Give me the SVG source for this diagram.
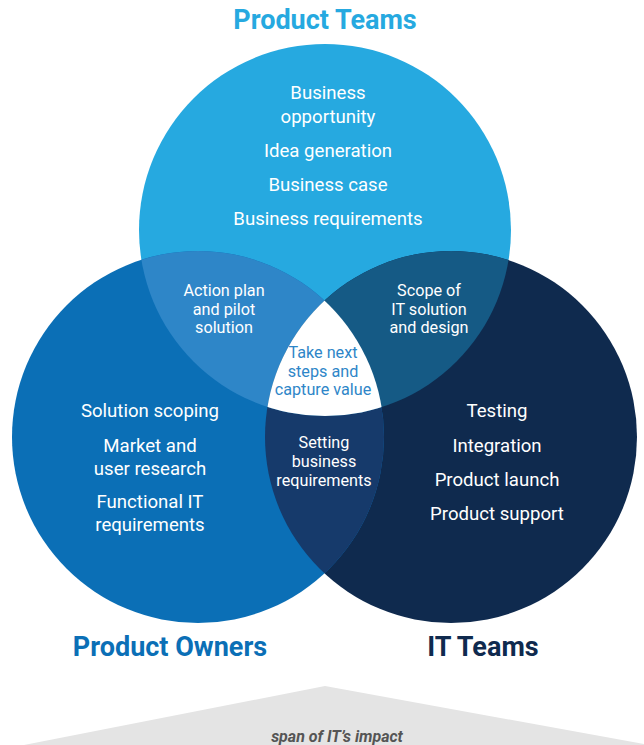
<svg xmlns="http://www.w3.org/2000/svg" width="644" height="745" viewBox="0 0 644 745">
<style>
.t{font-family:Roboto,"Liberation Sans",sans-serif;text-anchor:middle;}
.body{font-size:18.6px;fill:#ffffff;}
.sm{font-size:16.2px;fill:#ffffff;}
.title{font-size:27px;font-weight:bold;}
.ctr{font-size:16.2px;fill:#2e86c8;}
</style>
<defs>
<clipPath id="cT"><circle cx="325" cy="230" r="186"/></clipPath>
<clipPath id="cL"><circle cx="198" cy="437" r="186"/></clipPath>
</defs>
<rect width="644" height="745" fill="#ffffff"/>

<g id="span">
<polygon points="325,686 24,745 644,745 644,744" fill="#e4e4e4"/>
<text class="t" x="337" y="742" font-size="16" font-weight="bold" font-style="italic" fill="#555555">span of IT’s impact</text>
</g>

<g id="product-teams">
<circle cx="325" cy="230" r="186" fill="#26a9e0"/>
<text class="t title" x="325" y="29" fill="#26a9e0">Product Teams</text>
<text class="t body" x="328" y="99">Business</text>
<text class="t body" x="328" y="123">opportunity</text>
<text class="t body" x="328" y="157">Idea generation</text>
<text class="t body" x="328" y="191">Business case</text>
<text class="t body" x="328" y="225">Business requirements</text>
</g>

<g id="it-teams">
<circle cx="451" cy="437" r="186" fill="#0f2a4e"/>
<text class="t title" x="483" y="656" fill="#0f2a4e">IT Teams</text>
<text class="t body" x="497" y="417">Testing</text>
<text class="t body" x="497" y="452">Integration</text>
<text class="t body" x="497" y="486">Product launch</text>
<text class="t body" x="497" y="520">Product support</text>
</g>

<g id="product-owners">
<circle cx="198" cy="437" r="186" fill="#0b6fb6"/>
<text class="t title" x="170" y="656" fill="#0b6fb6">Product Owners</text>
<text class="t body" x="150" y="417">Solution scoping</text>
<text class="t body" x="150" y="452">Market and</text>
<text class="t body" x="150" y="475">user research</text>
<text class="t body" x="150" y="508">Functional IT</text>
<text class="t body" x="150" y="531">requirements</text>
</g>

<g id="owners-it-overlap">
<circle cx="451" cy="437" r="186" fill="#163a6b" clip-path="url(#cL)"/>
<text class="t sm" x="324" y="448">Setting</text>
<text class="t sm" x="324" y="467">business</text>
<text class="t sm" x="324" y="486">requirements</text>
</g>

<g id="teams-owners-overlap">
<circle cx="198" cy="437" r="186" fill="#2e86c8" clip-path="url(#cT)"/>
<text class="t sm" x="224" y="296">Action plan</text>
<text class="t sm" x="224" y="315">and pilot</text>
<text class="t sm" x="224" y="333">solution</text>
</g>

<g id="teams-it-overlap">
<circle cx="451" cy="437" r="186" fill="#155a85" clip-path="url(#cT)"/>
<text class="t sm" x="429" y="296">Scope of</text>
<text class="t sm" x="429" y="315">IT solution</text>
<text class="t sm" x="429" y="333">and design</text>
</g>

<g id="center">
<g clip-path="url(#cT)"><circle cx="451" cy="437" r="186" fill="#ffffff" clip-path="url(#cL)"/></g>
<text class="t ctr" x="323" y="358">Take next</text>
<text class="t ctr" x="323" y="377">steps and</text>
<text class="t ctr" x="323" y="395">capture value</text>
</g>
</svg>
